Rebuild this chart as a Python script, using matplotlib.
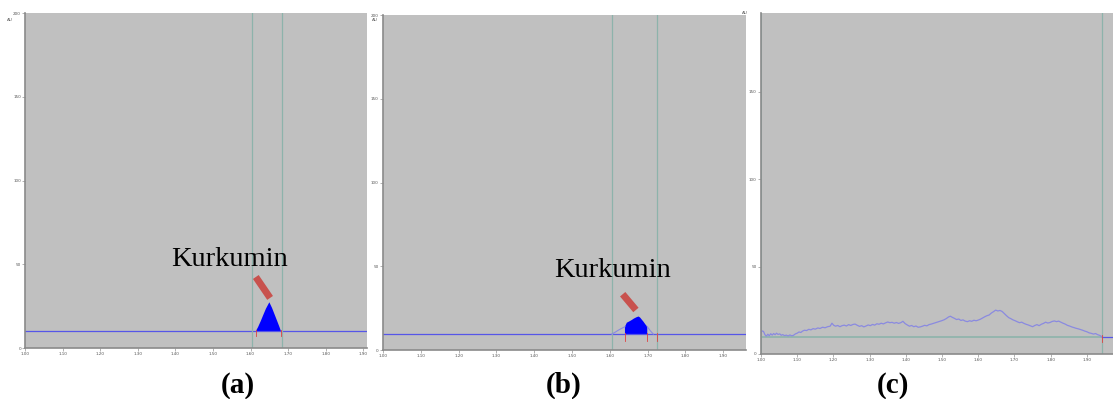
import numpy as np
import matplotlib
matplotlib.use("Agg")
from matplotlib import pyplot as plt
from matplotlib import patheffects as pe

# --- data (retention time, AU) ---
x_ticks = [1.0, 1.1, 1.2, 1.3, 1.4, 1.5, 1.6, 1.7, 1.8, 1.9]
x_tick_labels = ["1.00", "1.10", "1.20", "1.30", "1.40", "1.50", "1.60", "1.70", "1.80", "1.90"]
y_ticks = [0, 50, 100, 150, 200]

# (a) standard
a_base = 10.0
a_peak_t = [1.614, 1.620, 1.627, 1.634, 1.641, 1.650, 1.657, 1.664, 1.671, 1.677, 1.681]
a_peak_v = [10.0, 12.5, 16.0, 19.8, 23.5, 27.3, 24.0, 20.0, 16.0, 12.5, 10.0]
a_markers = [1.604, 1.684]
a_arrow_t = [1.614, 1.652]
a_arrow_v = [42.4, 29.9]
a_label = (1.545, 53.0)

# (b) sample
b_base = 9.5
b_shoulder_t = [1.605, 1.614, 1.623, 1.632, 1.640]
b_shoulder_v = [9.5, 10.6, 11.9, 13.0, 13.9]
b_peak_t = [1.640, 1.645, 1.651, 1.658, 1.664, 1.671, 1.676, 1.680, 1.685, 1.689, 1.694, 1.699]
b_peak_v = [13.9, 16.3, 17.0, 17.9, 18.8, 19.6, 20.0, 19.4, 18.0, 16.9, 15.3, 13.9]
b_tail_t = [1.699, 1.707, 1.715]
b_tail_v = [13.9, 11.5, 9.5]
b_markers = [1.606, 1.725]
b_arrow_t = [1.634, 1.669]
b_arrow_v = [33.3, 23.9]
b_label = (1.606, 47.5)

# (c) blank
c_base = 9.6
c_marker = 1.942
c_t = [1.000, 1.003, 1.007, 1.011, 1.015, 1.019, 1.023, 1.027, 1.031, 1.035, 1.039, 1.043,
       1.047, 1.052, 1.056, 1.060, 1.065, 1.070, 1.075, 1.080, 1.085, 1.090, 1.095, 1.100,
       1.105, 1.110, 1.115, 1.120, 1.126, 1.132, 1.138, 1.144, 1.150, 1.157, 1.163, 1.170,
       1.177, 1.184, 1.191, 1.196, 1.201, 1.206, 1.212, 1.218, 1.224, 1.230, 1.236, 1.242,
       1.248, 1.254, 1.260, 1.266, 1.272, 1.278, 1.284, 1.290, 1.296, 1.302, 1.308, 1.314,
       1.320, 1.326, 1.332, 1.338, 1.344, 1.350, 1.356, 1.362, 1.368, 1.374, 1.380, 1.386,
       1.392, 1.398, 1.404, 1.410, 1.416, 1.422, 1.428, 1.434, 1.440, 1.446, 1.452, 1.458,
       1.464, 1.470, 1.476, 1.482, 1.488, 1.494, 1.500, 1.506, 1.512, 1.518, 1.523, 1.528,
       1.534, 1.540, 1.546, 1.552, 1.558, 1.564, 1.570, 1.576, 1.582, 1.588, 1.594, 1.600,
       1.606, 1.612, 1.618, 1.624, 1.630, 1.636, 1.642, 1.648, 1.654, 1.660, 1.666, 1.672,
       1.678, 1.684, 1.690, 1.696, 1.702, 1.708, 1.714, 1.720, 1.726, 1.732, 1.738, 1.744,
       1.750, 1.756, 1.762, 1.768, 1.774, 1.780, 1.786, 1.792, 1.798, 1.804, 1.810, 1.816,
       1.822, 1.828, 1.834, 1.840, 1.846, 1.852, 1.858, 1.864, 1.870, 1.876, 1.882, 1.888,
       1.894, 1.900, 1.906, 1.912, 1.918, 1.924, 1.930, 1.936, 1.941]
c_v = [12.0, 13.2, 12.9, 11.0, 10.2, 11.3, 10.4, 11.6, 10.8, 11.7, 11.0, 11.9,
       11.2, 11.5, 10.7, 11.1, 10.5, 10.8, 10.3, 10.9, 10.4, 10.7, 11.5, 11.9,
       12.6, 12.3, 13.1, 13.6, 13.4, 14.1, 13.8, 14.5, 14.2, 14.9, 14.6, 15.3,
       15.0, 15.6, 15.9, 17.6, 16.4, 15.9, 16.3, 15.6, 16.2, 16.5, 16.0, 16.8,
       16.3, 16.9, 17.1, 16.4, 15.8, 16.2, 15.5, 16.0, 16.6, 16.2, 16.9, 16.5,
       17.3, 17.0, 17.6, 17.2, 17.8, 18.3, 17.9, 18.1, 17.6, 18.0, 17.5, 17.9,
       18.7, 17.4, 16.6, 15.9, 16.3, 15.6, 16.0, 15.3, 15.5, 15.9, 16.4, 16.1,
       16.8, 17.1, 17.5, 17.9, 18.3, 18.7, 19.1, 19.6, 20.3, 21.2, 21.6, 21.0,
       20.4, 19.7, 20.0, 19.2, 19.5, 18.8, 18.5, 19.0, 18.7, 19.3, 19.0, 19.4,
       19.9, 20.6, 21.3, 21.9, 22.3, 23.4, 24.2, 25.1, 24.6, 24.9, 24.3, 23.1,
       21.9, 20.8, 20.2, 19.5, 19.0, 18.4, 17.9, 18.2, 17.5, 17.0, 16.6, 16.1,
       15.6, 16.3, 16.8, 16.2, 17.0, 17.5, 18.2, 17.7, 18.0, 18.6, 18.9, 18.5,
       18.8, 18.2, 17.6, 17.1, 16.4, 16.0, 15.5, 15.1, 14.7, 14.4, 14.0, 13.6,
       13.1, 12.7, 12.1, 11.8, 11.4, 11.7, 11.0, 10.6, 9.9]

GRAY = "#c0c0c0"
GRID = "#8db3ab"
BLUE_LINE = "#5656e8"
TRACE = "#8a8ae0"
RED = "#c8524e"

fig = plt.figure(figsize=(11.13, 3.99), dpi=100)

ax_a = fig.add_axes([0.0225, 0.1278, 0.3073, 0.8396])
ax_b = fig.add_axes([0.3441, 0.1228, 0.3261, 0.8396])
ax_c = fig.add_axes([0.6837, 0.1128, 0.3163, 0.8546])


def style(ax, xmax, ymax):
    ax.set_facecolor(GRAY)
    ax.set_xlim(1.0, xmax)
    ax.set_ylim(0, ymax)
    ax.set_xticks(x_ticks)
    ax.set_xticklabels(x_tick_labels)
    ax.set_yticks([t for t in y_ticks if t <= ymax])
    ax.tick_params(labelsize=3, length=2, width=0.4, color="#777777",
                   labelcolor="#555555", pad=1)
    for s in ["top", "right"]:
        ax.spines[s].set_visible(False)
    for s in ["left", "bottom"]:
        ax.spines[s].set_color("#8a8a8a")
        ax.spines[s].set_linewidth(1.2)


def arrow(ax, ts, vs):
    ax.plot(ts, vs, color=RED, lw=5, solid_capstyle="butt",
            path_effects=[pe.SimplePatchShadow(offset=(1.5, -1.5), alpha=0.35), pe.Normal()])


serif = {"family": "Liberation Serif"}

# (a)
style(ax_a, 1.91, 200)
ax_a.axhline(a_base, color=BLUE_LINE, lw=0.9)
for m in a_markers:
    ax_a.axvline(m, color=GRID, lw=0.9)
ax_a.fill(a_peak_t, a_peak_v, color="#0000ff", lw=0)
for t in [a_peak_t[0], a_peak_t[-1]]:
    ax_a.plot([t, t], [a_base - 3, a_base + 0.5], color="#e04040", lw=0.6)
arrow(ax_a, a_arrow_t, a_arrow_v)
ax_a.text(a_label[0], a_label[1], "Kurkumin", fontsize=20.5, ha="center", va="center", **serif)

# (b)
style(ax_b, 1.96, 200)
ax_b.axhline(b_base, color=BLUE_LINE, lw=0.9)
for m in b_markers:
    ax_b.axvline(m, color=GRID, lw=0.9)
ax_b.plot(b_shoulder_t, b_shoulder_v, color=TRACE, lw=0.8)
ax_b.plot(b_tail_t, b_tail_v, color=TRACE, lw=0.8)
ax_b.fill(b_peak_t + [b_peak_t[-1], b_peak_t[0]], b_peak_v + [b_base, b_base], color="#0000ff", lw=0)
for t in [b_peak_t[0], b_peak_t[-1], b_markers[1]]:
    ax_b.plot([t, t], [b_base - 4, b_base + 0.5], color="#e04040", lw=0.6)
arrow(ax_b, b_arrow_t, b_arrow_v)
ax_b.text(b_label[0], b_label[1], "Kurkumin", fontsize=20.5, ha="center", va="center", **serif)

# (c)
style(ax_c, 1.972, 195)
ax_c.axvline(1.0, color=GRID, lw=1.2)
ax_c.axvline(c_marker, color=GRID, lw=0.9)
ax_c.plot([1.0, c_marker], [c_base, c_base], color=GRID, lw=1.2)
ax_c.plot([c_marker, 1.972], [c_base, c_base], color=BLUE_LINE, lw=0.9)
ax_c.plot(c_t, c_v, color=TRACE, lw=0.9)
ax_c.plot([c_marker, c_marker], [c_base - 3, c_base + 1], color="#e04040", lw=0.6)

# axis unit labels
for x, y in [(0.006, 0.948), (0.334, 0.948), (0.667, 0.965)]:
    fig.text(x, y, "AU", fontsize=3, color="#555555")

# panel labels
for x, lab in [(0.2135, "(a)"), (0.506, "(b)"), (0.8025, "(c)")]:
    fig.text(x, 0.035, lab, fontsize=21, fontweight="bold", ha="center", va="center", **serif)

fig.savefig("out.png", dpi=100)
